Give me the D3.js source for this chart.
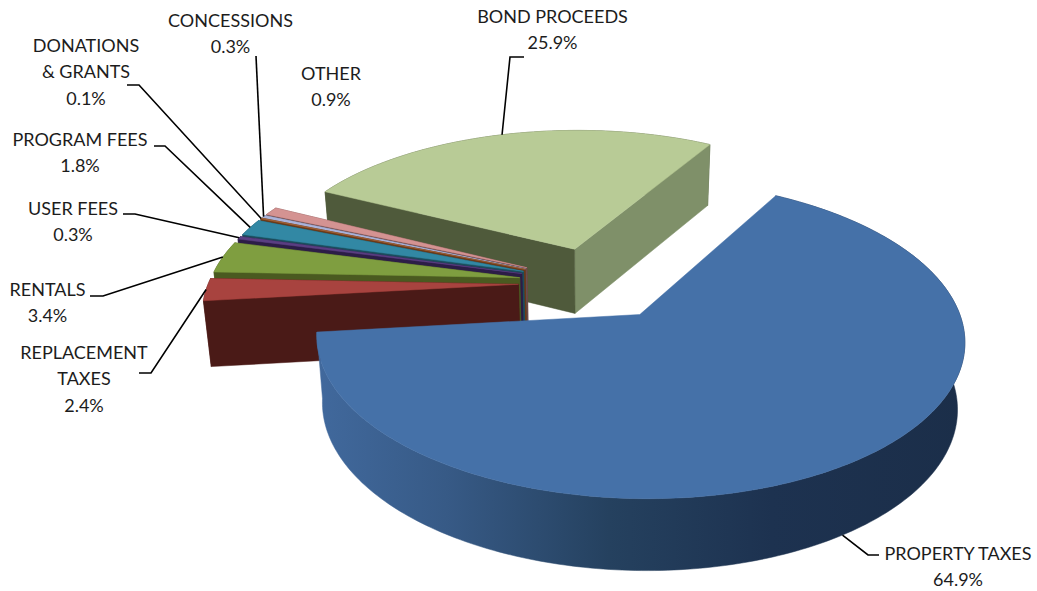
<!DOCTYPE html>
<html>
<head>
<meta charset="utf-8">
<script src="https://cdn.jsdelivr.net/npm/d3@7"></script>
<style>
  html, body { margin: 0; padding: 0; background: #fff; }
  svg { display: block; }
  text { font-family: Lato, "Open Sans", sans-serif; font-size: 18px; fill: #1c1c1c; text-anchor: middle; }
</style>
</head>
<body>
<svg id="chart" width="1037" height="591"></svg>
<script>
// Revenue categories, clockwise from the upper right of the pie
const categories = ["PROPERTY TAXES", "REPLACEMENT TAXES", "RENTALS", "USER FEES", "PROGRAM FEES",
                    "DONATIONS & GRANTS", "CONCESSIONS", "OTHER", "BOND PROCEEDS"];
const shares = [64.9, 2.4, 3.4, 0.3, 1.8, 0.1, 0.3, 0.9, 25.9];

// Top, near cut wall, far cut wall and outer rim colours per category; null walls face away
const topColors  = ["#4571a8", "#a8433f", "#7f9e40", "#5a3f82", "#3288a4", "#a5653a", "#aab3da", "#d49392", "#b8cb96"];
const startWalls = [null, "#4a1a17", "#4a5a20", "#2c1d47", "#1c4c5c", "#6b3a18", "#5b6078", "#6e4644", "#4f5a3b"];
const endWalls   = [null, "#4a1a17", "#4a5a20", "#2c1d47", "#1c4c5c", "#6b3a18", "#5b6078", "#6e4644", "#7f9069"];
const rimColors  = ["url(#rimShade)", "#4f1e1b", "#4a5a20", "#2c1d47", "#1c4c5c", "#6b3a18", "#5b6078", "#6e4644", "#4f5a3b"];

// Label placement: text lines, centre x, first baseline, elbow path of the leader
const labelLayout = [
  { lines: ["PROPERTY TAXES", "64.9%"], x: 958, y: 560, leader: [[868, 555], [879, 555]], onBase: true },
  { lines: ["REPLACEMENT", "TAXES", "2.4%"], x: 84, y: 359, leader: [[151, 373], [139, 373]] },
  { lines: ["RENTALS", "3.4%"], x: 47.5, y: 296, leader: [[103, 296], [90, 296]] },
  { lines: ["USER FEES", "0.3%"], x: 73, y: 214.5, leader: [[135, 214], [123, 214]] },
  { lines: ["PROGRAM FEES", "1.8%"], x: 80, y: 146, leader: [[165, 146], [154, 146]] },
  { lines: ["DONATIONS", "& GRANTS", "0.1%"], x: 86, y: 52, leader: [[139, 85], [127, 85]] },
  { lines: ["CONCESSIONS", "0.3%"], x: 230.5, y: 27, leader: [[256, 56]] },
  { lines: ["OTHER", "0.9%"], x: 331, y: 80, leader: null },
  { lines: ["BOND PROCEEDS", "25.9%"], x: 552.5, y: 23, leader: [[510, 57], [524, 57]] }
];

const lineGap = 26.3;
const drawOrder = [8, 7, 6, 5, 4, 3, 2, 1, 0];

// Perspective view of the pie plane
const origin = { x: 596, y: 283 };
const radiusX = 310, radiusY = 146;
const perspective = 0.15;
const explode = 0.25;

const project = (u, v) => {
  const w = 1 - perspective * v;
  return [origin.x + radiusX * u / w, origin.y + radiusY * v / w];
};
// The underside of the pie is a slightly narrower copy shifted down
const toBase = ([x, y]) => [origin.x + 0.98 * (x - origin.x), y + 61 + 0.031 * (y - 146)];

const rad = d => d * Math.PI / 180;
const pie = d3.pie().sort(null).value(d => d)
  .startAngle(rad(30)).endAngle(rad(390));
const arcs = pie(shares);

const apexOf = a => {
  const mid = (a.startAngle + a.endAngle) / 2;
  return [explode * Math.sin(mid), -explode * Math.cos(mid)];
};
const rimPoint = (a, t) => {
  const [ax, av] = apexOf(a);
  return project(ax + Math.sin(t), av - Math.cos(t));
};
const rimPoints = a => {
  const n = Math.max(2, Math.ceil((a.endAngle - a.startAngle) / rad(1)));
  return d3.range(n + 1).map(i => rimPoint(a, a.startAngle + (a.endAngle - a.startAngle) * i / n));
};

const svg = d3.select("#chart");
const path = d3.line();

// Rim shading runs from mid blue on the left to near navy on the right
const grad = svg.append("defs").append("linearGradient")
  .attr("id", "rimShade").attr("gradientUnits", "userSpaceOnUse")
  .attr("x1", 316).attr("x2", 967).attr("y1", 0).attr("y2", 0);
[[0, "#41699d"], [0.2, "#375a86"], [0.45, "#25415f"], [0.7, "#1d3250"], [1, "#1b2e49"]]
  .forEach(([o, c]) => grad.append("stop").attr("offset", o).attr("stop-color", c));

const pieGroup = svg.append("g");
drawOrder.forEach(i => {
  const a = arcs[i];
  const apexTop = project(...apexOf(a));
  const apexBase = toBase(apexTop);
  const rim = rimPoints(a);
  const rimBase = rim.map(toBase);
  const g = pieGroup.append("g");
  const face = (pts, fill) => {
    if (fill) g.append("path")
      .attr("d", path(pts) + "Z").attr("fill", fill).attr("stroke", fill).attr("stroke-width", 0.5);
  };

  face(rim.concat(rimBase.slice().reverse()), rimColors[i]);
  face([rim[rim.length - 1], apexTop, apexBase, rimBase[rimBase.length - 1]], endWalls[i]);
  face([rim[0], apexTop, apexBase, rimBase[0]], startWalls[i]);
  face([apexTop].concat(rim), topColors[i]);
});

// Leaders run from the slice rim at its mid angle out to the label
const leaderGroup = svg.append("g").attr("fill", "none").attr("stroke", "#000").attr("stroke-width", 1.6);
labelLayout.forEach((l, i) => {
  if (!l.leader) return;
  const a = arcs[i];
  let anchor = rimPoint(a, (a.startAngle + a.endAngle) / 2);
  if (l.onBase) anchor = toBase(anchor);
  leaderGroup.append("path").attr("d", path([anchor].concat(l.leader)));
});

const labelGroup = svg.append("g");
labelLayout.forEach(l => {
  const t = labelGroup.append("text").attr("x", l.x).attr("y", l.y);
  l.lines.forEach((s, j) => t.append("tspan").attr("x", l.x).attr("dy", j ? lineGap : 0).text(s));
});
</script>
</body>
</html>
